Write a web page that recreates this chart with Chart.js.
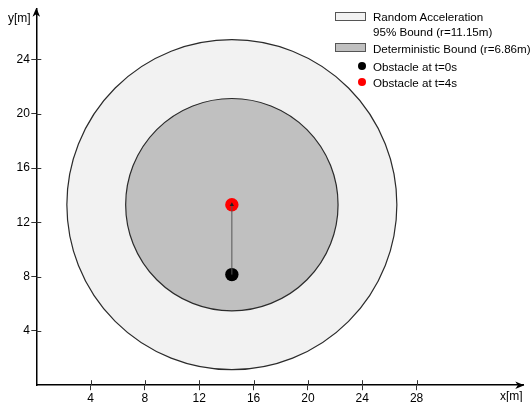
<!DOCTYPE html>
<html>
<head>
<meta charset="utf-8">
<script src="https://cdn.jsdelivr.net/npm/chart.js@4/dist/chart.umd.min.js"></script>
<style>
  body { margin: 0; background: #fff; }
  #wrap { position: relative; width: 530px; height: 402px; font-family: "Liberation Sans", Arial, sans-serif; }
  .lbl { position: absolute; font-size: 11.6px; color: #000; white-space: nowrap; line-height: 15px; }
  .box { position: absolute; width: 31px; height: 9px; border: 1px solid #555; box-sizing: border-box; }
  .dot { position: absolute; width: 8px; height: 8px; border-radius: 50%; }
</style>
</head>
<body>
<div id="wrap">
  <canvas id="chart" width="530" height="402"></canvas>
  <div class="lbl" style="left:8px;top:11px;font-size:12px">y[m]</div>
  <div class="lbl" style="left:500px;top:389px;font-size:12px">x[m]</div>
  <div id="legend"></div>
</div>
<script>
// obstacle positions [m]
const obstacleX = [14.4, 14.4];
const obstacleY = [8.15, 13.3];
const obstacleLabels = ["Obstacle at t=0s", "Obstacle at t=4s"];
const obstacleColors = ["#000000", "#ff0000"];

// bound circles, centred on the t=4s obstacle (radius as drawn, in m)
const boundRadii = [12.15, 7.82];
const boundLabels = [["Random Acceleration", "95% Bound (r=11.15m)"], ["Deterministic Bound (r=6.86m)"]];
const boundColors = ["#f2f2f2", "#c0c0c0"];

const xTicks = [4, 8, 12, 16, 20, 24, 28];
const yTicks = [4, 8, 12, 16, 20, 24];

// circles with a radius in data units, placed with the chart scales
const boundCircles = {
    id: "boundCircles",
    beforeDatasetsDraw(chart) {
        const c = chart.ctx, sx = chart.scales.x, sy = chart.scales.y;
        const cx = sx.getPixelForValue(obstacleX[1]);
        const cy = sy.getPixelForValue(obstacleY[1]);
        c.save();
        boundRadii.forEach((r, i) => {
            const rp = sx.getPixelForValue(r) - sx.getPixelForValue(0);
            c.beginPath();
            c.arc(cx, cy, rp, 0, Math.PI * 2);
            c.fillStyle = boundColors[i];
            c.fill();
            c.lineWidth = 1.2;
            c.strokeStyle = "#2b2b2b";
            c.stroke();
        });
        c.restore();
    }
};

const axisArrows = {
    id: "axisArrows",
    afterDraw(chart) {
        const c = chart.ctx, a = chart.chartArea;
        const x0 = chart.scales.x.getPixelForValue(0);
        const y0 = chart.scales.y.getPixelForValue(0);
        c.save();
        c.strokeStyle = "#333";
        c.lineWidth = 1;
        // inner half of each tick mark
        xTicks.forEach(v => {
            const px = Math.round(chart.scales.x.getPixelForValue(v)) + 0.5;
            c.beginPath(); c.moveTo(px, y0); c.lineTo(px, y0 - 5); c.stroke();
        });
        yTicks.forEach(v => {
            const py = Math.round(chart.scales.y.getPixelForValue(v)) + 0.5;
            c.beginPath(); c.moveTo(x0, py); c.lineTo(x0 + 5, py); c.stroke();
        });
        c.fillStyle = "#000";
        // y arrow
        c.beginPath();
        c.moveTo(x0, a.top - 1);
        c.lineTo(x0 - 3.8, a.top + 8);
        c.lineTo(x0, a.top + 5.5);
        c.lineTo(x0 + 3.8, a.top + 8);
        c.closePath(); c.fill();
        // x arrow
        c.beginPath();
        c.moveTo(a.right + 1, y0);
        c.lineTo(a.right - 8, y0 - 3.8);
        c.lineTo(a.right - 5.5, y0);
        c.lineTo(a.right - 8, y0 + 3.8);
        c.closePath(); c.fill();
        c.restore();
    }
};

new Chart(document.getElementById("chart"), {
    type: "scatter",
    data: {
        datasets: [
            {
                order: 0,
                showLine: true,
                data: obstacleX.map((x, i) => ({ x: x, y: obstacleY[i] })),
                borderColor: "#555",
                borderWidth: 1,
                pointRadius: [0, 2.5],
                pointStyle: "triangle",
                backgroundColor: "#222",
                pointBorderWidth: 0
            },
            {
                order: 1,
                data: obstacleX.map((x, i) => ({ x: x, y: obstacleY[i] })),
                backgroundColor: obstacleColors,
                borderWidth: 0,
                pointRadius: 6.7
            }
        ]
    },
    options: {
        responsive: false,
        animation: false,
        devicePixelRatio: 1,
        events: [],
        layout: { padding: { top: 8, right: 6, left: 0, bottom: 0 } },
        plugins: { legend: { display: false }, tooltip: { enabled: false } },
        scales: {
            x: {
                type: "linear", min: 0, max: 35.86,
                afterFit: s => { s.height = 16.8; },
                afterBuildTicks: s => { s.ticks = xTicks.map(v => ({ value: v })); },
                border: { color: "#000", width: 1.5 },
                grid: { drawOnChartArea: false, tickLength: 5, color: "#333", lineWidth: 1 },
                ticks: { padding: 1, color: "#000", font: { family: "Liberation Sans", size: 12 } }
            },
            y: {
                type: "linear", min: 0, max: 27.74,
                afterFit: s => { s.width = 36.3; },
                afterBuildTicks: s => { s.ticks = yTicks.map(v => ({ value: v })); },
                border: { color: "#000", width: 1.5 },
                grid: { drawOnChartArea: false, tickLength: 5, color: "#333", lineWidth: 1 },
                ticks: { padding: 1.5, color: "#000", font: { family: "Liberation Sans", size: 12 } }
            }
        }
    },
    plugins: [boundCircles, axisArrows]
});

// legend
const legend = document.getElementById("legend");
let html = "";
html += `<div class="box" style="left:335px;top:12px;background:${boundColors[0]}"></div>`;
html += `<div class="lbl" style="left:373px;top:9px">${boundLabels[0][0]}<br>${boundLabels[0][1]}</div>`;
html += `<div class="box" style="left:335px;top:42.5px;background:${boundColors[1]}"></div>`;
html += `<div class="lbl" style="left:373px;top:41px">${boundLabels[1][0]}</div>`;
obstacleLabels.forEach((t, i) => {
    const cy = 66 + i * 16.3;
    html += `<div class="dot" style="left:358px;top:${cy - 4}px;background:${obstacleColors[i]}"></div>`;
    html += `<div class="lbl" style="left:373px;top:${cy - 7.5}px">${t}</div>`;
});
legend.innerHTML = html;
</script>
</body>
</html>
